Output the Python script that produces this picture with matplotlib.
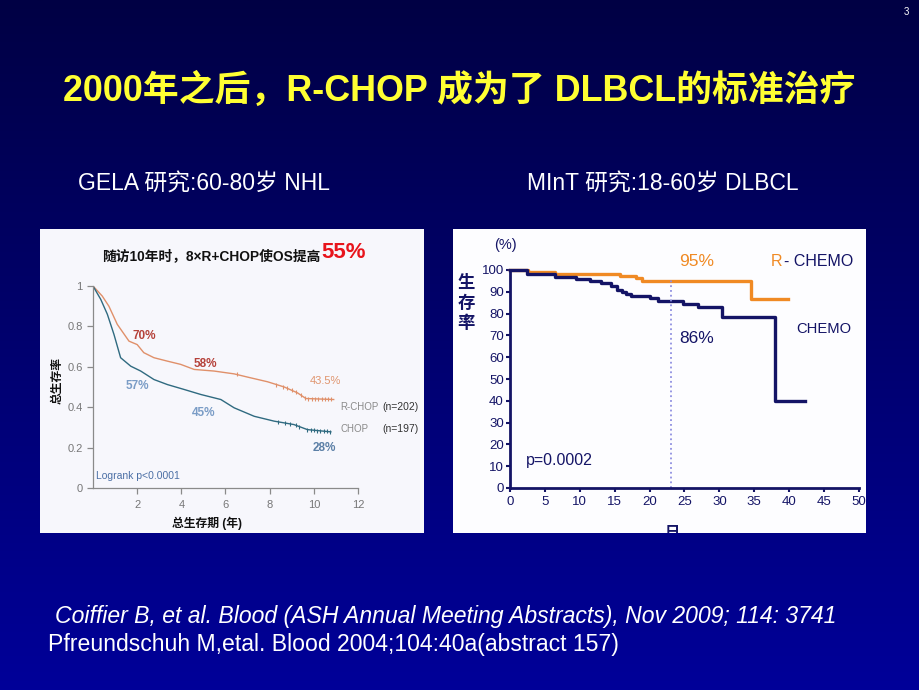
import numpy as np
import matplotlib
matplotlib.use('Agg')
import matplotlib.pyplot as plt
from matplotlib.patches import Rectangle

plt.rcParams['font.family'] = ['Liberation Sans', 'Noto Sans CJK SC', 'DejaVu Sans']
CJK = ['Liberation Sans', 'Noto Sans CJK SC', 'DejaVu Sans']

# GELA study (left panel): overall survival vs years
rchop_t = [0, 0.42, 0.72, 1.1, 1.63, 2.0, 2.3, 2.76, 3.37, 3.97, 4.58, 5.48, 6.39, 7.0, 7.9, 8.66, 9.26, 9.64, 10.9]
rchop_s = [1.0, 0.95, 0.90, 0.81, 0.727, 0.71, 0.67, 0.645, 0.628, 0.612, 0.587, 0.579, 0.565, 0.549, 0.526, 0.50, 0.471, 0.443, 0.438]
chop_t = [0, 0.35, 0.65, 0.95, 1.25, 1.71, 2.16, 2.76, 3.37, 4.12, 4.88, 5.79, 6.39, 7.3, 8.2, 9.1, 9.71, 10.77]
chop_s = [1.0, 0.934, 0.86, 0.76, 0.645, 0.603, 0.579, 0.537, 0.512, 0.488, 0.463, 0.438, 0.397, 0.355, 0.331, 0.314, 0.289, 0.278]
rchop_cens = [6.5, 8.3, 8.6, 8.8, 9.0, 9.2, 9.4, 9.6, 9.75, 9.9, 10.05, 10.2, 10.35, 10.5, 10.65, 10.8]
chop_cens = [8.4, 8.7, 8.9, 9.2, 9.35, 9.7, 9.85, 10.0, 10.15, 10.3, 10.45, 10.6, 10.75]

# MInT study (right panel): survival % vs months
rchemo_t = [0, 2.6, 6.4, 15.7, 18.1, 18.9, 34.5, 39.8]
rchemo_s = [100, 99.2, 98.2, 97.3, 96.2, 95.1, 86.7, 86.7]
chemo_t = [0, 2.5, 6.4, 9.5, 11.5, 13.1, 14.5, 15.3, 16.0, 16.6, 17.3, 20.0, 21.2, 24.8, 27.0, 30.4, 37.9, 42.2]
chemo_s = [100, 98, 97, 96, 95, 94, 92.5, 91, 90, 89, 88, 87, 86, 84.5, 83, 78.5, 40, 40]
cutoff_month = 23

W, H = 920, 690
fig = plt.figure(figsize=(9.2, 6.9), dpi=100)


def fx(px):
    return px / W


def fy(py):
    return 1 - py / H


# gradient background
bg = fig.add_axes([0, 0, 1, 1], zorder=-10)
top = np.array([0x00, 0x00, 0x44]) / 255
bot = np.array([0x00, 0x00, 0x99]) / 255
g = np.linspace(0, 1, 256)[:, None]
grad = top[None, None, :] * (1 - g[..., None]) + bot[None, None, :] * g[..., None]
bg.imshow(np.repeat(grad, 2, axis=1), aspect='auto', extent=[0, 1, 0, 1])
bg.axis('off')

# panel backgrounds
left_panel = Rectangle((fx(40), fy(533)), fx(384), 304 / H, transform=fig.transFigure,
                       facecolor='#f7f7fc', edgecolor='none', zorder=-5)
right_panel = Rectangle((fx(453), fy(533)), fx(413), 304 / H, transform=fig.transFigure,
                        facecolor='#fdfdff', edgecolor='none', zorder=-5)
fig.patches.extend([left_panel, right_panel])

# titles
fig.text(0.499, fy(91), '2000年之后，R-CHOP 成为了 DLBCL的标准治疗', color='#ffff33',
         fontsize=25.8, fontweight='bold', ha='center', va='center')
fig.text(fx(78), fy(184), 'GELA 研究:60-80岁 NHL', color='white', fontsize=16.5, ha='left', va='center', family=CJK)
fig.text(fx(527), fy(184), 'MInT 研究:18-60岁 DLBCL', color='white', fontsize=16.5, ha='left', va='center', family=CJK)
fig.text(fx(906), fy(12), '3', color='white', fontsize=7, ha='center', va='center')

fig.text(fx(55), fy(617), 'Coiffier B, et al. Blood (ASH Annual Meeting Abstracts), Nov 2009; 114: 3741',
         color='white', fontsize=16.6, style='italic', ha='left', va='center')
fig.text(fx(48), fy(645), 'Pfreundschuh M,etal. Blood 2004;104:40a(abstract 157)',
         color='white', fontsize=16.6, ha='left', va='center')

# ---- left chart ----
ax1 = fig.add_axes([fx(93), fy(488), fx(265), 202 / H])
ax1.set_facecolor('none')
ax1.plot(rchop_t, rchop_s, color='#e0906a', lw=1.0)
ax1.plot(chop_t, chop_s, color='#2f6a80', lw=1.0)


def surv_at(ts, ss, x):
    return np.interp(x, ts, ss)


ax1.plot(rchop_cens, [surv_at(rchop_t, rchop_s, c) for c in rchop_cens], ls='none', marker='|',
         ms=3, color='#e0906a', mew=0.8)
ax1.plot(chop_cens, [surv_at(chop_t, chop_s, c) for c in chop_cens], ls='none', marker='|',
         ms=3, color='#2f6a80', mew=0.8)
ax1.set_xlim(0, 12)
ax1.set_ylim(0, 1)
ax1.set_xticks([2, 4, 6, 8, 10, 12])
ax1.set_yticks([0, 0.2, 0.4, 0.6, 0.8, 1])
ax1.set_yticklabels(['0', '0.2', '0.4', '0.6', '0.8', '1'])
for s in ['top', 'right']:
    ax1.spines[s].set_visible(False)
for s in ['left', 'bottom']:
    ax1.spines[s].set_color('#8a8a8a')
    ax1.spines[s].set_linewidth(0.9)
ax1.tick_params(colors='#8a8a8a', labelcolor='#777777', labelsize=8, length=4, width=0.9)
ax1.tick_params(axis='x', pad=5)

ax1.text(2.3, 0.752, '70%', color='#b5413a', fontsize=8.5, fontweight='bold', ha='center', va='center')
ax1.text(5.1, 0.612, '58%', color='#b5413a', fontsize=8.5, fontweight='bold', ha='center', va='center')
ax1.text(10.54, 0.529, '43.5%', color='#e0956e', fontsize=8, ha='center', va='center')
ax1.text(2.0, 0.504, '57%', color='#7a9cc6', fontsize=8.5, fontweight='bold', ha='center', va='center')
ax1.text(5.0, 0.372, '45%', color='#7a9cc6', fontsize=8.5, fontweight='bold', ha='center', va='center')
ax1.text(10.47, 0.198, '28%', color='#5b7fa6', fontsize=8.5, fontweight='bold', ha='center', va='center')
ax1.text(11.2, 0.40, 'R-CHOP', color='#8a8a8a', fontsize=7, ha='left', va='center', clip_on=False)
ax1.text(11.2, 0.29, 'CHOP', color='#8a8a8a', fontsize=7, ha='left', va='center', clip_on=False)
ax1.text(13.1, 0.40, '(n=202)', color='#333333', fontsize=7.5, ha='left', va='center', clip_on=False)
ax1.text(13.1, 0.29, '(n=197)', color='#333333', fontsize=7.5, ha='left', va='center', clip_on=False)
ax1.text(0.12, 0.058, 'Logrank p<0.0001', color='#4b6fa5', fontsize=7.5, ha='left', va='center')

fig.text(fx(320), fy(256), '随访10年时，8×R+CHOP使OS提高', color='#111111', fontsize=9.9,
         fontweight='bold', ha='right', va='center', family=CJK)
fig.text(fx(321), fy(253), '55%', color='#e8141c', fontsize=16, fontweight='bold', ha='left', va='center')
fig.text(fx(58), fy(380), '总生存率', color='#111111', fontsize=8.5, fontweight='bold', rotation=90,
         ha='center', va='center', family=CJK)
fig.text(fx(207), fy(523), '总生存期 (年)', color='#111111', fontsize=8.5, fontweight='bold',
         ha='center', va='center', family=CJK)

# ---- right chart ----
navy = '#141466'
orange = '#f08a24'
ax2 = fig.add_axes([fx(510), fy(488), fx(349), 218 / H])
ax2.set_facecolor('none')
ax2.step(rchemo_t, rchemo_s, where='post', color=orange, lw=2.4, clip_on=False)
ax2.step(chemo_t, chemo_s, where='post', color=navy, lw=2.4, clip_on=False)
ax2.axvline(cutoff_month, ymax=0.955, color='#8f8fe0', ls=':', lw=1.3)
ax2.set_xlim(0, 50)
ax2.set_ylim(0, 100)
ax2.set_xticks(np.arange(0, 51, 5))
ax2.set_yticks(np.arange(0, 101, 10))
for s in ['top', 'right']:
    ax2.spines[s].set_visible(False)
for s in ['left', 'bottom']:
    ax2.spines[s].set_color(navy)
    ax2.spines[s].set_linewidth(2)
ax2.tick_params(colors=navy, labelcolor=navy, labelsize=9.5, length=3, width=1.5, pad=1.5)
ax2.tick_params(axis='x', pad=3)

ax2.text(26.7, 104, '95%', color=orange, fontsize=12.5, ha='center', va='center', clip_on=False)
fig.text(fx(771), fy(261), 'R', color=orange, fontsize=11.5, ha='left', va='center')
fig.text(fx(784), fy(261), '- CHEMO', color=navy, fontsize=11.5, ha='left', va='center')
fig.text(fx(796), fy(329), 'CHEMO', color=navy, fontsize=10.6, ha='left', va='center')
ax2.text(26.7, 68.7, '86%', color=navy, fontsize=12.5, ha='center', va='center')
fig.text(fx(526), fy(460), 'p=0.0002', color=navy, fontsize=11.5, ha='left', va='center')

fig.text(fx(505), fy(245), '(%)', color=navy, fontsize=10.5, ha='center', va='center')
fig.text(fx(466), fy(303), '生\n存\n率', color=navy, fontsize=12.5, fontweight='bold', linespacing=1.25,
         ha='center', va='center', family=CJK)
ri = fig.text(fx(672), fy(533), '日', color=navy, fontsize=11, fontweight='bold', ha='center', va='center',
              family=CJK)
ri.set_clip_path(right_panel)

fig.savefig('out.png', dpi=100)
